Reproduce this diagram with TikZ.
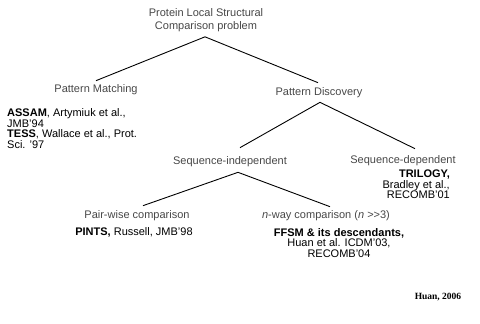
\documentclass[tikz,border=0pt]{standalone}
\usepackage{fontspec}
\setsansfont{Liberation Sans}
\newfontfamily\timesfont{Liberation Serif}
\usepackage{tikz}
\tikzset{
  branch/.style={line width=0.9pt,draw=black},
  topic/.style={inner sep=0pt,text=black!72,font=\sffamily\fontsize{11}{13}\selectfont,align=center},
  refs/.style={inner sep=0pt,text=black,font=\sffamily\fontsize{11}{10.5}\selectfont},
  credit/.style={inner sep=0pt,font=\timesfont\bfseries\fontsize{9.5}{11}\selectfont}
}

\begin{document}
\begin{tikzpicture}[x=1pt,y=-1pt]
    \useasboundingbox (0,0) rectangle (480,324);
    \node[topic] (root) at (206,20) {Protein Local Structural\\Comparison problem};
    \node[topic] (pm) at (96,90) {Pattern Matching};
    \node[topic] (pd) at (319,93) {Pattern Discovery};
    \node[topic] (si) at (230,162) {Sequence-independent};
    \node[topic] (sd) at (403,161) {Sequence-dependent};
    \node[topic] (pw) at (137,216) {Pair-wise comparison};
    \node[topic] (nw) at (326,216) {\textit{n}-way comparison (\textit{n} >\kern0pt>3)};
    % references
    \node[refs,align=left,anchor=north west] (assam) at (7,108.5)
      {\textbf{ASSAM}, Artymiuk et al.,\\JMB’94\\\textbf{TESS}, Wallace et al., Prot.\\Sci. ’97};
    \node[refs,align=right,anchor=north east] (trilogy) at (450,170)
      {\textbf{TRILOGY,}\\Bradley et al.,\\RECOMB’01};
    \node[refs] (pints) at (134,232.5) {\textbf{PINTS,} Russell, JMB’98};
    \node[refs,align=center,anchor=north] (ffsm) at (339,228)
      {\textbf{FFSM \& its descendants,}\\Huan et al. ICDM’03,\\RECOMB’04};
    \node[credit] (huan) at (438,297) {Huan, 2006};
    \begin{scope}[every path/.style={branch}]
      \draw ([xshift=-1pt,yshift=-5pt]root.south) -- ([yshift=4pt]pm.north);
      \draw ([xshift=-1pt,yshift=-5pt]root.south) -- ([xshift=-1pt,yshift=5pt]pd.north);
      \draw ([xshift=1pt,yshift=-4pt]pd.south) -- ([xshift=10pt,yshift=9pt]si.north);
      \draw ([xshift=1pt,yshift=-4pt]pd.south) -- ([xshift=12pt,yshift=7pt]sd.north);
      \draw ([xshift=8pt,yshift=-5pt]si.south) -- ([xshift=6pt,yshift=5pt]pw.north);
      \draw ([xshift=8pt,yshift=-5pt]si.south) -- ([xshift=4pt,yshift=4pt]nw.north);
    \end{scope}
\end{tikzpicture}
\end{document}
